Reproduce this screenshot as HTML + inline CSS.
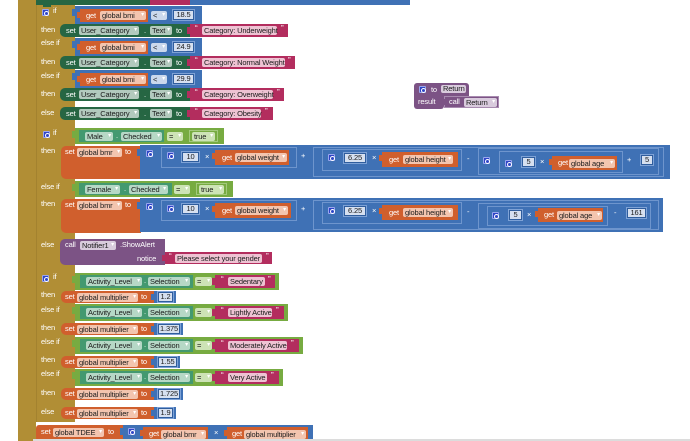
<!DOCTYPE html>
<html><head><meta charset="utf-8"><style>
*{margin:0;padding:0;box-sizing:border-box}
html,body{width:690px;height:441px;overflow:hidden;background:#fff}
body{position:relative;font-family:"Liberation Sans",Arial,sans-serif;font-size:7.5px;letter-spacing:-0.15px}
div{position:absolute;white-space:nowrap}
.l{color:#fff;line-height:10px;height:10px}
.p{height:9px;line-height:9px;border-radius:2px;color:#1b1b1b;padding:0 2px}
.p i{font-style:normal;color:#fff;font-size:6px;position:absolute;right:2px;top:0}
.g{width:7px;height:7px;background:#2f45c6;border:1px solid #9aa6ef;border-radius:1px}
.g:after{content:"";position:absolute;left:1px;top:1px;width:3px;height:3px;border:1px solid #fff;border-radius:50%}
.B{background:#3f71b5}.O{background:#d05f2d}.D{background:#266643}.T{background:#439970}.G{background:#77ab41}.K{background:#b32d5e}.U{background:#7c5385}.Y{background:#b18e35}
.pB{background:#cbd8ec}.pO{background:#f3c5af}.pD{background:#b3cabe}.pT{background:#b6d8c6}.pG{background:#cde3b6}.pK{background:#eec3d3}.pU{background:#d9cbdd}
.nb{border:1px solid #6e95cd}
.n{height:10px;line-height:8px;background:#d6e0f0;border:1px solid #2f5d9d;box-shadow:0 0 0 1px #7ea2d6;color:#1b1b1b;text-align:center}
.q{color:#fff;font-size:8px;line-height:10px}
</style></head><body>

<!-- brown procedure + if blocks -->
<div class="Y" style="left:18px;top:0;width:18px;height:441px"></div>
<div class="Y" style="left:36px;top:5px;width:39px;height:417px;border-left:1px solid #a3822f"></div>

<!-- top strip -->
<div class="D" style="left:36px;top:0;width:114px;height:5px"></div>
<div class="K" style="left:150px;top:0;width:40px;height:5px"></div>
<div class="B" style="left:190px;top:0;width:220px;height:5px"></div>
<div class="D" style="left:43px;top:5px;width:8px;height:2px"></div>

<!-- ===== IF 1 ===== -->
<div class="g" style="left:42px;top:9px"></div>
<div class="l" style="left:53px;top:6px">if</div>
<div class="l" style="left:41px;top:25px">then</div>
<div class="l" style="left:41px;top:38px">else if</div>
<div class="l" style="left:41px;top:57px">then</div>
<div class="l" style="left:41px;top:71px">else if</div>
<div class="l" style="left:41px;top:89px">then</div>
<div class="l" style="left:41px;top:108px">else</div>

<!-- compare 1 -->
<div class="B" style="left:75px;top:6px;width:127px;height:19px"></div>
<div class="B" style="left:72px;top:9px;width:4px;height:7px"></div>
<div class="O" style="left:80px;top:9px;width:68px;height:13px"></div>
<div class="O" style="left:77px;top:12px;width:4px;height:6px"></div>
<div class="l" style="left:86px;top:10.5px">get</div>
<div class="p pO" style="left:100px;top:11px;width:46px">global bmi<i>▾</i></div>
<div class="p pB" style="left:151px;top:11px;width:16px">&lt;<i>▾</i></div>
<div class="n" style="left:173px;top:10px;width:21px">18.5</div>

<!-- compare 2 -->
<div class="B" style="left:75px;top:38px;width:127px;height:18px"></div>
<div class="B" style="left:72px;top:41px;width:4px;height:7px"></div>
<div class="O" style="left:80px;top:41px;width:68px;height:13px"></div>
<div class="O" style="left:77px;top:44px;width:4px;height:6px"></div>
<div class="l" style="left:86px;top:42.5px">get</div>
<div class="p pO" style="left:100px;top:43px;width:46px">global bmi<i>▾</i></div>
<div class="p pB" style="left:151px;top:43px;width:16px">&lt;<i>▾</i></div>
<div class="n" style="left:173px;top:42px;width:21px">24.9</div>

<!-- compare 3 -->
<div class="B" style="left:75px;top:70px;width:127px;height:18px"></div>
<div class="B" style="left:72px;top:73px;width:4px;height:7px"></div>
<div class="O" style="left:80px;top:73px;width:68px;height:13px"></div>
<div class="O" style="left:77px;top:76px;width:4px;height:6px"></div>
<div class="l" style="left:86px;top:74.5px">get</div>
<div class="p pO" style="left:100px;top:75px;width:46px">global bmi<i>▾</i></div>
<div class="p pB" style="left:151px;top:75px;width:16px">&lt;<i>▾</i></div>
<div class="n" style="left:173px;top:74px;width:21px">29.9</div>

<!-- set rows -->
<div class="D" style="left:60px;top:24px;width:131px;height:13px;border-radius:5px 0 0 5px"></div>
<div class="l" style="left:66px;top:25.5px">set</div>
<div class="p pD" style="left:79px;top:26px;width:60px">User_Category<i>▾</i></div>
<div class="l" style="left:144px;top:25.5px">.</div>
<div class="p pD" style="left:150px;top:26px;width:22px">Text<i>▾</i></div>
<div class="l" style="left:176px;top:25.5px">to</div>
<div class="K" style="left:190px;top:24px;width:98px;height:13px"></div>
<div class="K" style="left:187px;top:27px;width:4px;height:7px"></div>
<div class="q" style="left:195px;top:24px">“</div>
<div class="p pK" style="left:202px;top:26px;width:75px">Category: Underweight</div>
<div class="q" style="left:281px;top:24px">”</div>

<div class="D" style="left:60px;top:56px;width:131px;height:13px;border-radius:5px 0 0 5px"></div>
<div class="l" style="left:66px;top:57.5px">set</div>
<div class="p pD" style="left:79px;top:58px;width:60px">User_Category<i>▾</i></div>
<div class="l" style="left:144px;top:57.5px">.</div>
<div class="p pD" style="left:150px;top:58px;width:22px">Text<i>▾</i></div>
<div class="l" style="left:176px;top:57.5px">to</div>
<div class="K" style="left:190px;top:56px;width:105px;height:13px"></div>
<div class="K" style="left:187px;top:59px;width:4px;height:7px"></div>
<div class="q" style="left:195px;top:56px">“</div>
<div class="p pK" style="left:202px;top:58px;width:83px">Category: Normal Weight</div>
<div class="q" style="left:288px;top:56px">”</div>

<div class="D" style="left:60px;top:88px;width:131px;height:13px;border-radius:5px 0 0 5px"></div>
<div class="l" style="left:66px;top:89.5px">set</div>
<div class="p pD" style="left:79px;top:90px;width:60px">User_Category<i>▾</i></div>
<div class="l" style="left:144px;top:89.5px">.</div>
<div class="p pD" style="left:150px;top:90px;width:22px">Text<i>▾</i></div>
<div class="l" style="left:176px;top:89.5px">to</div>
<div class="K" style="left:190px;top:88px;width:94px;height:13px"></div>
<div class="K" style="left:187px;top:91px;width:4px;height:7px"></div>
<div class="q" style="left:195px;top:88px">“</div>
<div class="p pK" style="left:202px;top:90px;width:71px">Category: Overweight</div>
<div class="q" style="left:277px;top:88px">”</div>

<div class="D" style="left:60px;top:107px;width:131px;height:13px;border-radius:5px 0 0 5px"></div>
<div class="l" style="left:66px;top:108.5px">set</div>
<div class="p pD" style="left:79px;top:109px;width:60px">User_Category<i>▾</i></div>
<div class="l" style="left:144px;top:108.5px">.</div>
<div class="p pD" style="left:150px;top:109px;width:22px">Text<i>▾</i></div>
<div class="l" style="left:176px;top:108.5px">to</div>
<div class="K" style="left:190px;top:107px;width:83px;height:13px"></div>
<div class="K" style="left:187px;top:110px;width:4px;height:7px"></div>
<div class="q" style="left:195px;top:107px">“</div>
<div class="p pK" style="left:202px;top:109px;width:59px">Category: Obesity</div>
<div class="q" style="left:265px;top:107px">”</div>

<!-- ===== IF 2 ===== -->
<div class="g" style="left:43px;top:131px"></div>
<div class="l" style="left:53px;top:128px">if</div>
<div class="l" style="left:41px;top:146px">then</div>
<div class="l" style="left:41px;top:182px">else if</div>
<div class="l" style="left:41px;top:199px">then</div>
<div class="l" style="left:41px;top:240px">else</div>

<div class="G" style="left:75px;top:128px;width:149px;height:16px"></div>
<div class="G" style="left:72px;top:131px;width:4px;height:7px"></div>
<div class="T" style="left:79px;top:130px;width:85px;height:12px"></div>
<div class="p pT" style="left:85px;top:131.5px;width:28px">Male<i>▾</i></div>
<div class="l" style="left:116px;top:131px">.</div>
<div class="p pT" style="left:121px;top:131.5px;width:41px">Checked<i>▾</i></div>
<div class="p pG" style="left:167px;top:131.5px;width:16px">=<i>▾</i></div>
<div class="G" style="left:189px;top:130px;width:29px;height:12px;border:1px solid #a3c97c"></div>
<div class="p pG" style="left:192px;top:131.5px;width:23px">true<i>▾</i></div>

<div class="G" style="left:75px;top:181px;width:158px;height:16px"></div>
<div class="G" style="left:72px;top:184px;width:4px;height:7px"></div>
<div class="T" style="left:79px;top:183px;width:93px;height:12px"></div>
<div class="p pT" style="left:85px;top:184.5px;width:35px">Female<i>▾</i></div>
<div class="l" style="left:124px;top:184px">.</div>
<div class="p pT" style="left:129px;top:184.5px;width:39px">Checked<i>▾</i></div>
<div class="p pG" style="left:174px;top:184.5px;width:16px">=<i>▾</i></div>
<div class="G" style="left:196px;top:183px;width:31px;height:12px;border:1px solid #a3c97c"></div>
<div class="p pG" style="left:199px;top:184.5px;width:25px">true<i>▾</i></div>

<!-- bmr row 1 -->
<div class="O" style="left:61px;top:146px;width:80px;height:33px;border-radius:5px 0 0 5px"></div>
<div class="l" style="left:65px;top:147px">set</div>
<div class="p pO" style="left:77px;top:148px;width:45px">global bmr<i>▾</i></div>
<div class="l" style="left:125px;top:147px">to</div>
<div class="B" style="left:140px;top:145px;width:530px;height:34px"></div>
<div class="B" style="left:137px;top:149px;width:4px;height:7px"></div>
<div class="g" style="left:146px;top:150px"></div>
<div class="nb" style="left:161px;top:147px;width:136px;height:21px"></div>
<div class="g" style="left:167px;top:152px"></div>
<div class="n" style="left:182px;top:152px;width:17px">10</div>
<div class="l" style="left:205px;top:152px">×</div>
<div class="O" style="left:215px;top:150px;width:74px;height:15px"></div>
<div class="O" style="left:212px;top:153px;width:4px;height:6px"></div>
<div class="l" style="left:222px;top:152.5px">get</div>
<div class="p pO" style="left:235px;top:153px;width:52px">global weight<i>▾</i></div>
<div class="l" style="left:301px;top:151px">+</div>
<div class="nb" style="left:313px;top:147px;width:351px;height:30px"></div>
<div class="nb" style="left:322px;top:149px;width:140px;height:22px"></div>
<div class="g" style="left:328px;top:154px"></div>
<div class="n" style="left:344px;top:153px;width:22px">6.25</div>
<div class="l" style="left:372px;top:153px">×</div>
<div class="O" style="left:382px;top:152px;width:76px;height:15px"></div>
<div class="O" style="left:379px;top:155px;width:4px;height:6px"></div>
<div class="l" style="left:389px;top:154.5px">get</div>
<div class="p pO" style="left:403px;top:155px;width:50px">global height<i>▾</i></div>
<div class="l" style="left:467px;top:154px">-</div>
<div class="nb" style="left:478px;top:148px;width:181px;height:27px"></div>
<div class="g" style="left:483px;top:157px"></div>
<div class="nb" style="left:499px;top:151px;width:124px;height:22px"></div>
<div class="g" style="left:505px;top:160px"></div>
<div class="n" style="left:522px;top:157px;width:13px">5</div>
<div class="l" style="left:540px;top:157px">×</div>
<div class="O" style="left:552px;top:156px;width:65px;height:14px"></div>
<div class="O" style="left:549px;top:159px;width:4px;height:6px"></div>
<div class="l" style="left:558px;top:158px">get</div>
<div class="p pO" style="left:569px;top:158.5px;width:46px">global age<i>▾</i></div>
<div class="l" style="left:627px;top:155px">+</div>
<div class="n" style="left:641px;top:155px;width:12px">5</div>

<!-- bmr row 2 -->
<div class="O" style="left:61px;top:199px;width:80px;height:34px;border-radius:5px 0 0 5px"></div>
<div class="l" style="left:65px;top:200px">set</div>
<div class="p pO" style="left:77px;top:201px;width:45px">global bmr<i>▾</i></div>
<div class="l" style="left:125px;top:200px">to</div>
<div class="B" style="left:140px;top:198px;width:523px;height:34px"></div>
<div class="B" style="left:137px;top:202px;width:4px;height:7px"></div>
<div class="g" style="left:146px;top:203px"></div>
<div class="nb" style="left:161px;top:200px;width:136px;height:21px"></div>
<div class="g" style="left:167px;top:205px"></div>
<div class="n" style="left:182px;top:204px;width:17px">10</div>
<div class="l" style="left:205px;top:204px">×</div>
<div class="O" style="left:215px;top:203px;width:76px;height:15px"></div>
<div class="O" style="left:212px;top:206px;width:4px;height:6px"></div>
<div class="l" style="left:222px;top:205.5px">get</div>
<div class="p pO" style="left:235px;top:206px;width:53px">global weight<i>▾</i></div>
<div class="l" style="left:301px;top:204px">+</div>
<div class="nb" style="left:313px;top:200px;width:346px;height:30px"></div>
<div class="nb" style="left:322px;top:202px;width:140px;height:22px"></div>
<div class="g" style="left:328px;top:207px"></div>
<div class="n" style="left:344px;top:206px;width:22px">6.25</div>
<div class="l" style="left:372px;top:206px">×</div>
<div class="O" style="left:382px;top:205px;width:76px;height:15px"></div>
<div class="O" style="left:379px;top:208px;width:4px;height:6px"></div>
<div class="l" style="left:389px;top:207.5px">get</div>
<div class="p pO" style="left:403px;top:208px;width:50px">global height<i>▾</i></div>
<div class="l" style="left:467px;top:207px">-</div>
<div class="nb" style="left:478px;top:203px;width:173px;height:26px"></div>
<div class="nb" style="left:487px;top:206px;width:121px;height:20px"></div>
<div class="g" style="left:492px;top:212px"></div>
<div class="n" style="left:509px;top:210px;width:13px">5</div>
<div class="l" style="left:527px;top:210px">×</div>
<div class="O" style="left:538px;top:208px;width:65px;height:14px"></div>
<div class="O" style="left:535px;top:211px;width:4px;height:6px"></div>
<div class="l" style="left:544px;top:210px">get</div>
<div class="p pO" style="left:557px;top:210.5px;width:45px">global age<i>▾</i></div>
<div class="l" style="left:614px;top:208px">-</div>
<div class="n" style="left:627px;top:208px;width:19px">161</div>

<!-- notifier -->
<div class="U" style="left:60px;top:239px;width:105px;height:26px;border-radius:5px 0 0 5px"></div>
<div class="l" style="left:65px;top:240px">call</div>
<div class="p pU" style="left:80px;top:240.5px;width:36px">Notifier1<i>▾</i></div>
<div class="l" style="left:120px;top:240px">.ShowAlert</div>
<div class="l" style="left:137px;top:254px">notice</div>
<div class="K" style="left:165px;top:252px;width:107px;height:12px"></div>
<div class="K" style="left:162px;top:255px;width:4px;height:6px"></div>
<div class="q" style="left:169px;top:252px">“</div>
<div class="p pK" style="left:175px;top:253.5px;width:87px">Please select your gender</div>
<div class="q" style="left:266px;top:252px">”</div>

<!-- ===== IF 3 ===== -->
<div class="g" style="left:42px;top:275px"></div>
<div class="l" style="left:53px;top:272px">if</div>
<div class="l" style="left:41px;top:290px">then</div>
<div class="l" style="left:41px;top:305px">else if</div>
<div class="l" style="left:41px;top:323px">then</div>
<div class="l" style="left:41px;top:337px">else if</div>
<div class="l" style="left:41px;top:355px">then</div>
<div class="l" style="left:41px;top:369px">else if</div>
<div class="l" style="left:41px;top:388px">then</div>
<div class="l" style="left:41px;top:407px">else</div>

<!-- activity compares -->
<div class="G" style="left:75px;top:273px;width:204px;height:17px"></div>
<div class="G" style="left:72px;top:276px;width:4px;height:7px"></div>
<div class="T" style="left:80px;top:275px;width:113px;height:13px"></div>
<div class="p pT" style="left:86px;top:277px;width:56px">Activity_Level<i>▾</i></div>
<div class="l" style="left:144px;top:276px">.</div>
<div class="p pT" style="left:148px;top:277px;width:42px">Selection<i>▾</i></div>
<div class="p pG" style="left:195px;top:277px;width:17px">=<i>▾</i></div>
<div class="K" style="left:215px;top:275px;width:60px;height:13px"></div>
<div class="K" style="left:212px;top:278px;width:4px;height:7px"></div>
<div class="q" style="left:221px;top:275px">“</div>
<div class="p pK" style="left:228px;top:277px;width:37px">Sedentary</div>
<div class="q" style="left:268px;top:275px">”</div>

<div class="G" style="left:75px;top:304px;width:213px;height:17px"></div>
<div class="G" style="left:72px;top:307px;width:4px;height:7px"></div>
<div class="T" style="left:80px;top:306px;width:113px;height:13px"></div>
<div class="p pT" style="left:86px;top:308px;width:56px">Activity_Level<i>▾</i></div>
<div class="l" style="left:144px;top:307px">.</div>
<div class="p pT" style="left:148px;top:308px;width:42px">Selection<i>▾</i></div>
<div class="p pG" style="left:195px;top:308px;width:17px">=<i>▾</i></div>
<div class="K" style="left:215px;top:306px;width:69px;height:13px"></div>
<div class="K" style="left:212px;top:309px;width:4px;height:7px"></div>
<div class="q" style="left:221px;top:306px">“</div>
<div class="p pK" style="left:228px;top:308px;width:44px">Lightly Active</div>
<div class="q" style="left:276px;top:306px">”</div>

<div class="G" style="left:75px;top:337px;width:228px;height:17px"></div>
<div class="G" style="left:72px;top:340px;width:4px;height:7px"></div>
<div class="T" style="left:80px;top:339px;width:113px;height:13px"></div>
<div class="p pT" style="left:86px;top:341px;width:56px">Activity_Level<i>▾</i></div>
<div class="l" style="left:144px;top:340px">.</div>
<div class="p pT" style="left:148px;top:341px;width:42px">Selection<i>▾</i></div>
<div class="p pG" style="left:195px;top:341px;width:17px">=<i>▾</i></div>
<div class="K" style="left:215px;top:339px;width:84px;height:13px"></div>
<div class="K" style="left:212px;top:342px;width:4px;height:7px"></div>
<div class="q" style="left:221px;top:339px">“</div>
<div class="p pK" style="left:228px;top:341px;width:59px">Moderately Active</div>
<div class="q" style="left:291px;top:339px">”</div>

<div class="G" style="left:75px;top:369px;width:208px;height:17px"></div>
<div class="G" style="left:72px;top:372px;width:4px;height:7px"></div>
<div class="T" style="left:80px;top:371px;width:113px;height:13px"></div>
<div class="p pT" style="left:86px;top:373px;width:56px">Activity_Level<i>▾</i></div>
<div class="l" style="left:144px;top:372px">.</div>
<div class="p pT" style="left:148px;top:373px;width:42px">Selection<i>▾</i></div>
<div class="p pG" style="left:195px;top:373px;width:17px">=<i>▾</i></div>
<div class="K" style="left:215px;top:371px;width:64px;height:13px"></div>
<div class="K" style="left:212px;top:374px;width:4px;height:7px"></div>
<div class="q" style="left:221px;top:371px">“</div>
<div class="p pK" style="left:228px;top:373px;width:39px">Very Active</div>
<div class="q" style="left:271px;top:371px">”</div>

<!-- multiplier sets -->
<div class="O" style="left:61px;top:291px;width:94px;height:12px;border-radius:5px 0 0 5px"></div>
<div class="l" style="left:65px;top:292px">set</div>
<div class="p pO" style="left:77px;top:292.5px;width:61px">global multiplier<i>▾</i></div>
<div class="l" style="left:141px;top:292px">to</div>
<div class="B" style="left:154px;top:291px;width:22px;height:12px"></div>
<div class="B" style="left:151px;top:294px;width:4px;height:6px"></div>
<div class="n" style="left:158px;top:292px;width:15px">1.2</div>

<div class="O" style="left:61px;top:323px;width:94px;height:12px;border-radius:5px 0 0 5px"></div>
<div class="l" style="left:65px;top:324px">set</div>
<div class="p pO" style="left:77px;top:324.5px;width:61px">global multiplier<i>▾</i></div>
<div class="l" style="left:141px;top:324px">to</div>
<div class="B" style="left:154px;top:323px;width:29px;height:12px"></div>
<div class="B" style="left:151px;top:326px;width:4px;height:6px"></div>
<div class="n" style="left:158px;top:324px;width:22px">1.375</div>

<div class="O" style="left:61px;top:356px;width:94px;height:12px;border-radius:5px 0 0 5px"></div>
<div class="l" style="left:65px;top:357px">set</div>
<div class="p pO" style="left:77px;top:357.5px;width:61px">global multiplier<i>▾</i></div>
<div class="l" style="left:141px;top:357px">to</div>
<div class="B" style="left:154px;top:356px;width:26px;height:12px"></div>
<div class="B" style="left:151px;top:359px;width:4px;height:6px"></div>
<div class="n" style="left:158px;top:357px;width:19px">1.55</div>

<div class="O" style="left:61px;top:388px;width:94px;height:12px;border-radius:5px 0 0 5px"></div>
<div class="l" style="left:65px;top:389px">set</div>
<div class="p pO" style="left:77px;top:389.5px;width:61px">global multiplier<i>▾</i></div>
<div class="l" style="left:141px;top:389px">to</div>
<div class="B" style="left:154px;top:388px;width:29px;height:12px"></div>
<div class="B" style="left:151px;top:391px;width:4px;height:6px"></div>
<div class="n" style="left:158px;top:389px;width:22px">1.725</div>

<div class="O" style="left:61px;top:407px;width:94px;height:12px;border-radius:5px 0 0 5px"></div>
<div class="l" style="left:65px;top:408px">set</div>
<div class="p pO" style="left:77px;top:408.5px;width:61px">global multiplier<i>▾</i></div>
<div class="l" style="left:141px;top:408px">to</div>
<div class="B" style="left:154px;top:407px;width:22px;height:12px"></div>
<div class="B" style="left:151px;top:410px;width:4px;height:6px"></div>
<div class="n" style="left:158px;top:408px;width:15px">1.9</div>

<!-- TDEE -->
<div class="O" style="left:36px;top:425px;width:88px;height:16px;border-radius:3px 0 0 0"></div>
<div class="l" style="left:41px;top:427px">set</div>
<div class="p pO" style="left:53px;top:428px;width:51px">global TDEE<i>▾</i></div>
<div class="l" style="left:108px;top:427px">to</div>
<div class="B" style="left:123px;top:425px;width:190px;height:16px"></div>
<div class="B" style="left:120px;top:428px;width:4px;height:7px"></div>
<div class="g" style="left:128px;top:428px"></div>
<div class="O" style="left:143px;top:427px;width:65px;height:14px"></div>
<div class="O" style="left:140px;top:430px;width:4px;height:6px"></div>
<div class="l" style="left:149px;top:429px">get</div>
<div class="p pO" style="left:161px;top:429.5px;width:45px">global bmr<i>▾</i></div>
<div class="l" style="left:214px;top:428px">×</div>
<div class="O" style="left:227px;top:427px;width:81px;height:14px"></div>
<div class="O" style="left:224px;top:430px;width:4px;height:6px"></div>
<div class="l" style="left:232px;top:429px">get</div>
<div class="p pO" style="left:244px;top:429.5px;width:62px">global multiplier<i>▾</i></div>
<div style="left:33px;top:439px;width:657px;height:2px;background:#dcdcdc"></div>

<!-- Return procedure -->
<div class="U" style="left:414px;top:83px;width:55px;height:14px;border-radius:3px 3px 0 0"></div>
<div class="U" style="left:414px;top:96px;width:30px;height:13px;border-radius:0 0 3px 3px"></div>
<div class="g" style="left:419px;top:86px"></div>
<div class="l" style="left:431px;top:84.5px">to</div>
<div class="p pU" style="left:441px;top:85px;width:25px;height:8px;line-height:8px">Return</div>
<div class="l" style="left:418px;top:97px">result</div>
<div class="U" style="left:444px;top:96px;width:55px;height:12px;border:1px solid #a88bb0"></div>
<div class="U" style="left:441px;top:99px;width:4px;height:6px"></div>
<div class="l" style="left:449px;top:97px">call</div>
<div class="p pU" style="left:464px;top:97.5px;width:33px">Return<i>▾</i></div>

</body></html>
